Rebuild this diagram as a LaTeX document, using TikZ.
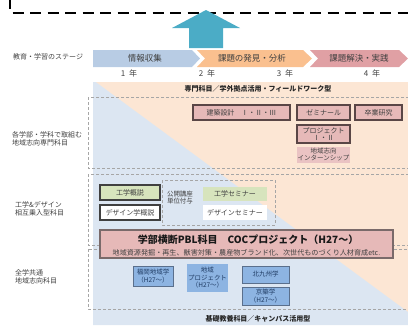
\documentclass[tikz,border=0pt]{standalone}
\usepackage{fontspec}
\setmainfont{Noto Sans CJK JP}
\definecolor{peach}{HTML}{FCE6D4}
\definecolor{lblue}{HTML}{DCE6F2}
\definecolor{chevblue}{HTML}{B8CCE4}
\definecolor{chevorange}{HTML}{FAC08F}
\definecolor{chevpink}{HTML}{E0A0A4}
\definecolor{pinkfill}{HTML}{E6B9B8}
\definecolor{brownline}{HTML}{5A4646}
\definecolor{greenfill}{HTML}{D7E4BD}
\definecolor{cardblue}{HTML}{8DB4E2}
\definecolor{cardline}{HTML}{5A6F8C}
\definecolor{cardtext}{HTML}{1F3B63}
\definecolor{dashgray}{HTML}{A6A6A6}
\definecolor{textgray}{HTML}{404040}
\definecolor{arrowblue}{HTML}{4BACC6}
\definecolor{pblline}{HTML}{7A6A6A}
\begin{document}
\begin{tikzpicture}[x=1pt,y=-1pt,
  txt/.style={inner sep=0pt, text=textgray, align=center},
  lbl/.style={inner sep=0pt, text=textgray, align=left, anchor=west, font=\fontsize{7}{8.5}\selectfont},
  rowbox/.style={draw=dashgray, dash pattern=on 3pt off 2pt, line width=0.8pt},
  pinkbox/.style={draw=brownline, line width=1.9pt, fill=pinkfill, inner sep=0pt, text=textgray, align=center, font=\fontsize{7}{8}\selectfont},
  plainbox/.style={inner sep=0pt, text=textgray, align=center, font=\fontsize{7}{8}\selectfont},
  darkbox/.style={draw=textgray, line width=1.2pt, inner sep=0pt, text=textgray, align=center, font=\fontsize{7}{8}\selectfont},
  cardbox/.style={fill=cardblue, draw=cardline, line width=1pt, inner sep=0pt, text=cardtext, align=center, font=\fontsize{6.5}{7.5}\selectfont},
  chevtext/.style={inner sep=0pt, text=textgray, font=\fontsize{8.5}{9}\selectfont},
  yeartext/.style={inner sep=0pt, text=textgray, font=\fontsize{8}{9}\selectfont},
  bandtext/.style={inner sep=0pt, text=black!85, font=\bfseries\fontsize{7}{8}\selectfont}
]
\path[use as bounding box] (0,0) rectangle (408,325);
\clip (0,0) rectangle (408,325);
% top dashed frame
\draw[black, line width=1.6pt, dash pattern=on 11pt off 6.5pt] (10,-2) -- (10,13) -- (415,13);
% big arrow
\fill[arrowblue] (206,10) -- (240,28) -- (223,28) -- (223,48) -- (189,48) -- (189,28) -- (172,28) -- cycle;
% stage label
\node[lbl] (stage) at (13,57) {教育・学習のステージ};
% chevrons
\fill[chevblue] (93,50) -- (192,50) -- (200,58.5) -- (192,67) -- (93,67) -- cycle;
\fill[chevorange] (197,50) -- (303,50) -- (312,58.5) -- (303,67) -- (197,67) -- (205,58.5) -- cycle;
\fill[chevpink] (310,50) -- (399,50) -- (408,58.5) -- (399,67) -- (310,67) -- (318,58.5) -- cycle;
\node[chevtext] (c1) at (145,58.5) {情報収集};
\node[chevtext] (c2) at (252,58.5) {課題の発見・分析};
\node[chevtext] (c3) at (359,58.5) {課題解決・実践};
% years
\node[yeartext] (y1) at (129,73) {1\hspace{4pt}年};
\node[yeartext] (y2) at (207,73) {2\hspace{4pt}年};
\node[yeartext] (y3) at (285,73) {3\hspace{4pt}年};
\node[yeartext] (y4) at (372,73) {4\hspace{4pt}年};
% background
\fill[peach] (93,82) rectangle (408,325);
\fill[lblue] (93,82) -- (95.7,82) -- (408,312) -- (408,325) -- (93,325) -- cycle;
\node[bandtext] (band) at (258,88.5) {専門科目／学外拠点活用・フィールドワーク型};
\node[bandtext] (bottomband) at (258,319) {基礎教養科目／キャンパス活用型};
% row boxes
\draw[rowbox] (88,97) rectangle (415,168);
\draw[rowbox] (88,174) rectangle (415,245);
\draw[rowbox] (88,249) rectangle (415,309);
% left labels
\node[lbl] (lab1) at (12,139) {各学部・学科で取組む\\地域志向専門科目};
\node[lbl] (lab2) at (15,209) {工学\&デザイン\\相互乗入型科目};
\node[lbl] (lab3) at (15,277) {全学共通\\地域志向科目};
% row 1
\node[pinkbox, minimum width=97pt, minimum height=15pt] (arch) at (241.5,112.5) {建築設計　Ⅰ・Ⅱ・Ⅲ};
\node[pinkbox, minimum width=53pt, minimum height=15pt] (semi) at (323.5,112.5) {ゼミナール};
\node[pinkbox, minimum width=47pt, minimum height=15pt] (grad) at (378.5,112.5) {卒業研究};
\node[pinkbox, minimum width=53pt, minimum height=18pt, font=\fontsize{7}{7.5}\selectfont] (proj) at (323.5,134) {プロジェクト\\Ⅰ・Ⅱ};
\node[plainbox, fill=pinkfill!85!white, minimum width=53pt, minimum height=16pt, font=\fontsize{6.5}{7.5}\selectfont] (intern) at (323.5,154.5) {地域志向\\インターンシップ};
% row 2
\node[darkbox, fill=greenfill, minimum width=60pt, minimum height=15pt] (kogaku) at (130,192.5) {工学概説};
\node[darkbox, fill=white, minimum width=60pt, minimum height=15pt] (design) at (130,212.5) {デザイン学概説};
\draw[rowbox] (162,180) rectangle (275,225);
\node[txt, font=\fontsize{6.5}{7}\selectfont, align=left] (open) at (180,198) {公開講座\\単位付与};
\node[plainbox, fill=greenfill, minimum width=64pt, minimum height=14pt] (kosemi) at (235,193.5) {工学セミナー};
\node[plainbox, fill=white, minimum width=64pt, minimum height=15pt] (desemi) at (235,212.5) {デザインセミナー};
% PBL
\node[draw=pblline, line width=1.3pt, fill=pinkfill, minimum width=293pt, minimum height=28pt, inner sep=0pt] (pbl) at (246.5,244) {};
\node[inner sep=0pt, text=black!90, font=\bfseries\fontsize{10}{11}\selectfont] (pbltitle) at (248,240) {学部横断PBL科目　COCプロジェクト（H27～）};
\node[inner sep=0pt, text=textgray, font=\fontsize{7.1}{8}\selectfont] (pblsub) at (246.5,252.5) {地域資源発掘・再生、獣害対策・農産物ブランド化、次世代ものづくり人材育成etc.};
% row 3 cards
\node[cardbox, minimum width=40pt, minimum height=20pt] (fuku) at (153,276) {福岡地域学\\（H27～）};
\node[cardbox, draw=none, minimum width=41pt, minimum height=28pt] (chiiki) at (207.5,278) {地域\\プロジェクト\\（H27～）};
\node[cardbox, minimum width=47pt, minimum height=17pt] (kita) at (265.5,274.5) {北九州学};
\node[cardbox, minimum width=47pt, minimum height=18pt] (kei) at (265.5,296) {京築学\\（H27～）};
\end{tikzpicture}
\end{document}
